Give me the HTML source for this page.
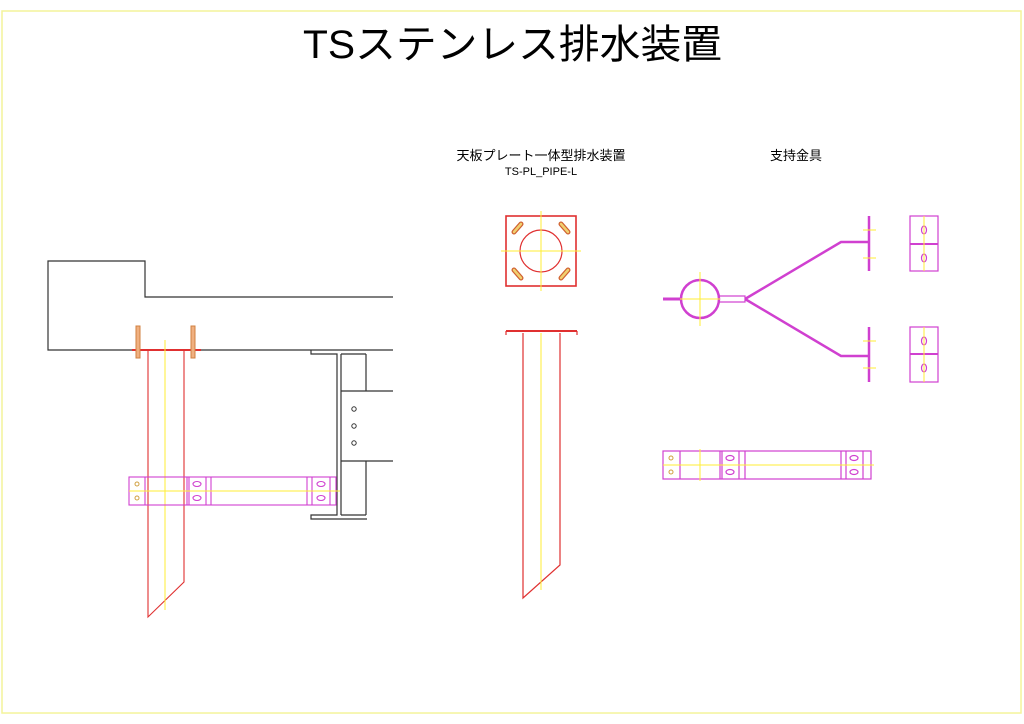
<!DOCTYPE html>
<html><head><meta charset="utf-8"><style>
html,body{margin:0;padding:0;background:#fff;width:1024px;height:724px;overflow:hidden}
svg{display:block}
text{font-family:"Liberation Sans","Noto Sans CJK JP",sans-serif}
</style></head><body>
<svg width="1024" height="724" viewBox="0 0 1024 724" xmlns="http://www.w3.org/2000/svg" fill="none">
<rect x="2" y="11" width="1019" height="702" stroke="#f4f49a" stroke-width="1.5"/>
<text x="303" y="58" font-size="40" fill="#000" textLength="419" lengthAdjust="spacingAndGlyphs">TSステンレス排水装置</text>
<text x="541" y="160" font-size="13" fill="#000" text-anchor="middle">天板プレート一体型排水装置</text>
<text x="541" y="175" font-size="11" fill="#000" text-anchor="middle">TS-PL_PIPE-L</text>
<text x="796" y="160" font-size="13" fill="#000" text-anchor="middle">支持金具</text>

<!-- left slab -->
<g stroke="#333" stroke-width="1.2">
<polyline points="393,297 145,297 145,261 48,261 48,350 393,350"/>
<polyline points="311,350 311,354 337,354 337,515 311,515 311,519 367,519"/>
<polyline points="341,354 366,354"/><line x1="341" y1="354" x2="341" y2="515"/>
<line x1="366" y1="354" x2="366" y2="391"/><line x1="366" y1="461" x2="366" y2="515"/>
<line x1="341" y1="391" x2="393" y2="391"/><line x1="341" y1="461" x2="393" y2="461"/>
<line x1="341" y1="515" x2="366" y2="515"/>
</g>
<g stroke="#333" stroke-width="1"><circle cx="354" cy="409" r="2.2"/><circle cx="354" cy="426" r="2.2"/><circle cx="354" cy="443" r="2.2"/></g>
<g stroke="#e03030" stroke-width="1.1">
<line x1="132" y1="350" x2="201" y2="350" stroke-width="2"/>
<polyline points="148,350 148,617 184,582 184,350"/>
</g>
<g stroke="#d08040" fill="#f0b080" stroke-width="1"><rect x="136" y="326" width="4" height="32"/><rect x="191" y="326" width="4" height="32"/></g>
<line x1="165" y1="340" x2="165" y2="610" stroke="#ffee33"/>
<!-- left band -->
<g stroke="#d040d0" stroke-width="1.1">
<rect x="129" y="477" width="207" height="28"/>
<line x1="145" y1="477" x2="145" y2="505"/><line x1="187" y1="477" x2="187" y2="505"/><line x1="189" y1="477" x2="189" y2="505"/>
<line x1="206" y1="477" x2="206" y2="505"/><line x1="211" y1="477" x2="211" y2="505"/>
<line x1="307" y1="477" x2="307" y2="505"/><line x1="312" y1="477" x2="312" y2="505"/>
<line x1="330" y1="477" x2="330" y2="505"/>
<ellipse cx="197" cy="484" rx="4" ry="2.5"/><ellipse cx="197" cy="498" rx="4" ry="2.5"/>
<ellipse cx="321" cy="484" rx="4" ry="2.5"/><ellipse cx="321" cy="498" rx="4" ry="2.5"/>
</g>
<g stroke="#d0a040"><circle cx="137" cy="484" r="2"/><circle cx="137" cy="498" r="2"/></g>
<line x1="129" y1="491" x2="340" y2="491" stroke="#ffee33"/>

<!-- middle -->
<g stroke="#e03030" stroke-width="1.2">
<rect x="506" y="216" width="70" height="70" stroke-width="1.6"/>
<circle cx="541" cy="251" r="21"/>
<line x1="506" y1="331" x2="577" y2="331" stroke-width="2"/>
<line x1="506" y1="331" x2="506" y2="335"/><line x1="577" y1="331" x2="577" y2="335"/>
<polyline points="523,333 523,598 560,565 560,333"/>
</g>
<g stroke="#d06030" fill="#f0d070" stroke-width="1">
<path d="M514,232 L521,224" stroke-width="5" stroke-linecap="round"/>
<path d="M561,224 L568,232" stroke-width="5" stroke-linecap="round"/>
<path d="M514,270 L521,278" stroke-width="5" stroke-linecap="round"/>
<path d="M561,278 L568,270" stroke-width="5" stroke-linecap="round"/>
</g>
<g stroke="#f0d070" stroke-width="2.5" stroke-linecap="round">
<path d="M514,232 L521,224"/><path d="M561,224 L568,232"/><path d="M514,270 L521,278"/><path d="M561,278 L568,270"/>
</g>
<g stroke="#ffee33"><line x1="541" y1="211" x2="541" y2="291"/><line x1="501" y1="251" x2="581" y2="251"/><line x1="541" y1="333" x2="541" y2="590"/></g>

<!-- right hanger -->
<g stroke="#d040d0" stroke-width="2">
<circle cx="700" cy="299" r="19" stroke-width="2.5"/>
<line x1="663" y1="299" x2="681" y2="299" stroke-width="3"/>
<rect x="719" y="296" width="26" height="6" stroke-width="1.2"/>
<polyline points="745,299 841,242 868,242" stroke-width="2.5"/>
<polyline points="745,299 841,356 868,356" stroke-width="2.5"/>
<line x1="869" y1="216" x2="869" y2="271" stroke-width="2.5"/>
<line x1="869" y1="327" x2="869" y2="382" stroke-width="2.5"/>
</g>
<g stroke="#d040d0" stroke-width="1.2">
<rect x="910" y="216" width="28" height="55"/><line x1="910" y1="244" x2="938" y2="244" stroke-width="2"/>
<rect x="910" y="327" width="28" height="55"/><line x1="910" y1="354" x2="938" y2="354" stroke-width="2"/>
<ellipse cx="924" cy="230" rx="2.5" ry="4"/><ellipse cx="924" cy="258" rx="2.5" ry="4"/>
<ellipse cx="924" cy="341" rx="2.5" ry="4"/><ellipse cx="924" cy="368" rx="2.5" ry="4"/>
<rect x="663" y="451" width="208" height="28"/>
<line x1="680" y1="451" x2="680" y2="479"/><line x1="720" y1="451" x2="720" y2="479"/><line x1="722" y1="451" x2="722" y2="479"/>
<line x1="739" y1="451" x2="739" y2="479"/><line x1="745" y1="451" x2="745" y2="479"/>
<line x1="841" y1="451" x2="841" y2="479"/><line x1="846" y1="451" x2="846" y2="479"/><line x1="863" y1="451" x2="863" y2="479"/>
<ellipse cx="730" cy="458" rx="4" ry="2.5"/><ellipse cx="730" cy="472" rx="4" ry="2.5"/>
<ellipse cx="854" cy="458" rx="4" ry="2.5"/><ellipse cx="854" cy="472" rx="4" ry="2.5"/>
</g>
<g stroke="#d0a040"><circle cx="671" cy="458" r="2"/><circle cx="671" cy="472" r="2"/></g>
<g stroke="#ffee33">
<line x1="700" y1="272" x2="700" y2="326"/><line x1="680" y1="299" x2="720" y2="299"/>
<line x1="863" y1="230" x2="876" y2="230"/><line x1="863" y1="258" x2="876" y2="258"/>
<line x1="863" y1="341" x2="876" y2="341"/><line x1="863" y1="368" x2="876" y2="368"/>
<line x1="924" y1="216" x2="924" y2="271"/><line x1="924" y1="327" x2="924" y2="382"/>
<line x1="663" y1="465" x2="874" y2="465"/><line x1="700" y1="449" x2="700" y2="481"/>
</g>
</svg>
</body></html>
